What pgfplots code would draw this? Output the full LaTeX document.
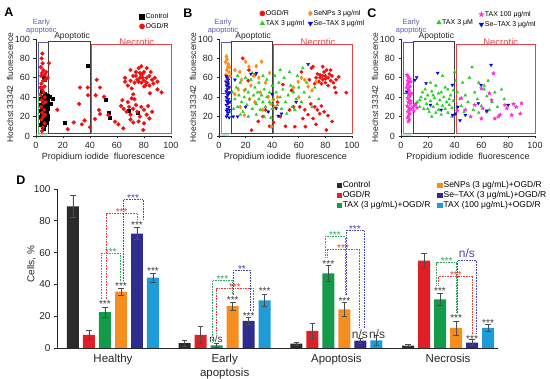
\documentclass[border=0pt]{standalone}
\usepackage{fontspec}
\setmainfont{Liberation Sans}
\usepackage{pgfplots}
\pgfplotsset{compat=1.18}
\usetikzlibrary{plotmarks}

\definecolor{cRed}{HTML}{F01010}
\definecolor{cOrange}{HTML}{FF8C1A}
\definecolor{cGreen}{HTML}{22D022}
\definecolor{cBlue}{HTML}{0A0ADC}
\definecolor{cMag}{HTML}{FF2EDC}
\definecolor{bxEarly}{HTML}{5B5BB0}
\definecolor{bxApo}{HTML}{404040}
\definecolor{bxNec}{HTML}{E5434A}
\definecolor{bxLiv}{HTML}{4DBB6B}
\definecolor{dC}{HTML}{2B2B2B}
\definecolor{dO}{HTML}{E21E26}
\definecolor{dT}{HTML}{139A4A}
\definecolor{dS}{HTML}{F58E1F}
\definecolor{dX}{HTML}{2E2C8E}
\definecolor{dH}{HTML}{1E9CD8}
\definecolor{sgG}{HTML}{2DA85A}
\definecolor{sgR}{HTML}{EE3A3A}
\definecolor{sgB}{HTML}{4646B0}
\definecolor{sgK}{HTML}{3A3A3A}

\pgfdeclareplotmark{fstar}{%
  \pgfpathmoveto{\pgfpointpolar{90}{\pgfplotmarksize}}%
  \pgfpathlineto{\pgfpointpolar{126}{0.42\pgfplotmarksize}}%
  \pgfpathlineto{\pgfpointpolar{162}{\pgfplotmarksize}}%
  \pgfpathlineto{\pgfpointpolar{198}{0.42\pgfplotmarksize}}%
  \pgfpathlineto{\pgfpointpolar{234}{\pgfplotmarksize}}%
  \pgfpathlineto{\pgfpointpolar{270}{0.42\pgfplotmarksize}}%
  \pgfpathlineto{\pgfpointpolar{306}{\pgfplotmarksize}}%
  \pgfpathlineto{\pgfpointpolar{342}{0.42\pgfplotmarksize}}%
  \pgfpathlineto{\pgfpointpolar{18}{\pgfplotmarksize}}%
  \pgfpathlineto{\pgfpointpolar{54}{0.42\pgfplotmarksize}}%
  \pgfpathclose\pgfusepathqfillstroke}

\pgfplotsset{
  scat/.style={
    scale only axis, height=97pt,
    xmin=0, xmax=100, ymin=0, ymax=100,
    axis lines=left, axis line style={-, line width=0.6pt, black!85},
    xtick={0,20,...,100}, ytick={0,20,...,100},
    tick align=outside, major tick length=2.5pt,
    tick style={line width=0.6pt, black!85},
    ticklabel style={font=\fontsize{9}{9}\selectfont, text=black!85},
    /pgf/number format/assume math mode=true,
    clip=false,
    legend style={draw=none, fill=none, font=\fontsize{7}{8}\selectfont,
      inner sep=0pt, row sep=1.5pt, nodes={inner sep=1pt}},
    legend cell align=left,
    legend image code/.code={\draw[##1, only marks, mark size=2.6pt] plot coordinates {(0pt,0pt)};},
  },
  scatlab/.style={
    xlabel={Propidium iodide\ \ fluorescence},
    ylabel={Hoechst 33342\ \ fluorescence},
    xlabel style={at={([yshift=-21pt]axis description cs:0.5,0)}, anchor=center, font=\fontsize{9}{9}\selectfont, text=black!85},
    ylabel style={at={([xshift=-26pt]axis description cs:0,0.5)}, anchor=center, font=\fontsize{8.5}{8.5}\selectfont, text=black!85},
  }
}

\newcommand{\gates}[6]{%
  \draw[bxLiv, line width=0.6pt] (axis cs:2,3) rectangle (axis cs:9,44);
  \draw[bxEarly, line width=0.7pt] (axis cs:2,44) rectangle (axis cs:9,97);
  \draw[bxApo, line width=0.7pt] (axis cs:9,3) rectangle (axis cs:40,98);
  \draw[bxNec, line width=0.7pt] (axis cs:41,3) rectangle (axis cs:100,94);
  \node[bxEarly, align=center, inner sep=0pt, font=\fontsize{7.5}{7.8}\selectfont] at (axis cs:#1,113) {Early\\apoptotic};
  \node[black!85, inner sep=0pt, font=\fontsize{8.5}{8.5}\selectfont] at (axis cs:#2,#3) {Apoptotic};
  \node[bxNec, inner sep=0pt, font=\fontsize{9.5}{9.5}\selectfont] at (axis cs:#4,#5) {Necrotic};
  \node[bxLiv, inner sep=0pt, font=\fontsize{4}{4}\selectfont] at (axis cs:#6,0.5) {Living};
}

\newcommand{\brk}[6]{\draw[#6, densely dotted, line width=0.6pt] (axis cs:#1,#2) -- (axis cs:#1,#3) -- (axis cs:#4,#3) -- (axis cs:#4,#5);}
\newcommand{\stars}[4]{\node[anchor=base, yshift=-5pt, inner sep=0pt, text=#3, font=\fontsize{10}{10}\selectfont] at (axis cs:#1,#2) {#4};}
\newcommand{\ns}[4]{\node[inner sep=0pt, text=#3, font=\fontsize{#4}{#4}\selectfont] at (axis cs:#1,#2) {n/s};}

\begin{document}
\begin{tikzpicture}
\useasboundingbox (0,0) rectangle (550pt,379pt);
\node[font=\fontsize{12.5}{12.5}\selectfont\bfseries] at (9pt,367pt) {A};
\node[font=\fontsize{12.5}{12.5}\selectfont\bfseries] at (188pt,366pt) {B};
\node[font=\fontsize{12.5}{12.5}\selectfont\bfseries] at (372pt,366pt) {C};
\node[font=\fontsize{12.5}{12.5}\selectfont\bfseries] at (21pt,199pt) {D};

% ---------------- Panel A ----------------
\begin{axis}[scat, scatlab, at={(36pt,243pt)}, anchor=south west, width=135pt,
  legend style={at={(axis cs:76.5,128)}, anchor=north west}]
\gates{4}{26.7}{102.4}{74.6}{96.6}{4.2}
\addplot[only marks, mark=square*, mark size=1.5pt, black] coordinates {
(3.5,12) (4,15) (5,18) (6,20) (7,22) (8,25) (4.5,28) (5.5,30) (6.5,33) (7.5,35) (3.8,38) (5.2,40) (6.8,42) (8.2,38) (4.2,22) (5.8,25) (7.2,27) (8.6,30) (3.2,32) (4.8,35) (6.2,16) (7.8,14) (5.1,10) (6.6,12) (8.3,18) (4.4,19) (5.6,23) (6.9,29) (8.8,21) (3.6,26) (5.3,36) (7.1,38) (4.1,41) (6.4,44) (8.5,42) (5.9,13) (7.4,17) (4.6,31) (6.1,34) (8.1,33) (5.0,26) (7.6,24) (3.9,17) (6.7,37) (9.0,28) (4.3,46) (7.9,20) (3.3,20) (6.0,8) (8.9,36) (5.4,61) (6.2,57.7) (10.4,40.5) (12.3,38) (10.8,33) (21,14) (38,72) (51.6,37) (54,24.4) (54.8,19) (68.4,25.8) (75.3,24.4)};
\addlegendentry{Control}
\addplot[only marks, mark=*, mark size=1.9pt, cRed] coordinates {
(4.7,85) (4.2,80) (4.9,75) (9.6,75) (3.5,71) (5.4,68) (4.5,65) (6.5,63) (3.8,62) (8.6,60) (5.2,57) (4.0,54) (6.2,51) (4.5,48) (5.8,45) (3.5,42) (6.5,40) (4.2,37) (5.5,34) (3.9,30) (6.1,27) (4.6,24) (5.3,20) (4.0,17) (6.4,13) (5.0,9) (4.4,5) (7.0,58) (7.5,66) (3.3,50) (7.2,35) (6.8,22)
(15.8,27) (23.5,7) (28,14) (32.6,50) (34,12) (32,33) (38.3,50) (38.5,42) (40,9) (36,16)
(45,58) (47.4,50) (44.2,42) (50.4,40.5) (46.7,26.8) (43.7,17.5) (47.4,22.7) (53.6,21.6) (58.5,14.8) (64.7,7.9) (64,37) (66,56) (70.9,49) (72,43) (70.9,38.8) (80,51) (84.4,44) (90,48) (79.5,6.2) (93,45)
(70,68) (72,62) (74,66) (76,70) (78,63) (80,66) (82,60) (84,62) (86,58) (76,56) (78,55) (80,57) (82,55) (79,60) (77,60) (75,58) (73,55) (81,52) (84,52) (87,54) (85,66) (88,60) (74,62) (78,72) (82,70) (70,57) (68,52) (66,60) (90,56) (79,64) (77,65)
(63,31) (65,28) (67,25) (69,30) (70,22) (72,28) (74,32) (75,25) (77,20) (78,30) (80,27) (82,22) (83,31) (70,17) (72,14) (76,15) (80,13) (84,18) (68,35) (73,38) (61,12) (86,25)};
\addlegendentry{OGD/R}
\end{axis}

% ---------------- Panel B ----------------
\begin{axis}[scat, scatlab, at={(219pt,243pt)}, anchor=south west, width=133pt,
  legend columns=2,
  legend style={at={(axis cs:30.5,131)}, anchor=north west, /tikz/every even column/.append style={column sep=3pt}}]
\gates{3}{25.7}{103}{74.5}{97}{3.5}
\addplot[only marks, mark=*, mark size=1.7pt, cRed] coordinates {
(17.8,80) (22.5,68) (22,57) (27,63) (35,27) (29.5,15) (24.5,6) (38,10) (33,20) (46,20) (53,27) (48,53) (54.5,47) (62,66) (69.5,70) (44,35) (41,14) (50,10) (56,30)
(70.7,71.5) (78,71.5) (74,64) (76,60) (78,58) (80,62) (82,60) (84,57) (80,55) (77,54) (75,56) (73,60) (79,66) (81,68) (83,64) (85,62) (86,55) (88,58) (72,54) (82,52) (76,63) (78,62) (80,59) (87,50) (68,58) (84,68) (90,61)
(60.7,30) (64.5,27) (67,22) (70.7,18) (75.7,23) (57,9.6) (65,9.6) (80.7,6.2) (88,44.7) (95.7,44.7) (72,30) (74,27) (77,31) (69,33) (79,25) (82,21) (63,18) (73,12) (85,15)};
\addlegendentry{OGD/R}
\addplot[only marks, mark=diamond*, mark size=2pt, cOrange] coordinates {
(5.5,82) (6,79) (5,76) (7,74) (6.5,71) (5.8,68) (7.5,66) (5.2,63) (6.8,61) (6,58) (7.2,55) (5.5,52) (6.6,49) (5.8,46) (7,43) (6.2,40) (5.4,37) (6.9,34) (8,71) (8.5,62) (7.8,50)
(15.7,66) (20,76.6) (22.5,71.5) (32,76.6) (28,72) (26,62) (19,47) (14.5,48) (37,40.5) (40.7,37) (39.5,9.6) (19,21.6) (12,68) (17,58) (24,52) (30,60) (35,55) (12,43) (23,38) (31,45) (38,65) (27,35) (33,27) (16,30) (39,33)
(59.5,56) (64.5,57.7) (67,51) (73,56) (62,60) (56,50) (44,40) (70,47) (42,30) (60,40)};
\addlegendentry{SeNPs 3 μg/ml}
\addplot[only marks, mark=triangle*, mark size=1.6pt, cGreen] coordinates {
(10,45) (12,38) (13,50) (14,30) (15,42) (16,55) (17,35) (18,25) (19,40) (20,48) (21,32) (22,45) (22,20) (23,38) (24,58) (25,28) (26,42) (27,50) (28,33) (28,22) (29,45) (30,38) (30,55) (31,27) (32,42) (33,35) (34,48) (34,20) (35,30) (36,40) (36,58) (37,25) (38,35) (38,45) (39,19) (40,28) (40,52) (41,38) (42,62) (43,45) (44,32) (45,55) (46,40) (47,28) (48,48) (49,60) (50,35) (52,42) (53,66) (54,52) (55,30) (56,45) (58,38) (59,62) (60,50) (62,35) (64,45) (66,55) (68,40) (70,30) (72,50) (75,38) (20,60) (16,22) (25,65) (33,62) (11,28) (8.5,35) (8,25) (14,62) (46,68) (51,23) (57,27) (63,70)};
\addlegendentry{TAX 3 μg/ml}
\addplot[only marks, mark=triangle*, mark options={rotate=180}, mark size=1.7pt, cBlue] coordinates {
(5.5,62) (6,60) (7,58) (6.5,55) (5.8,52) (7.5,50) (6.2,48) (5.4,46) (7,44) (6.5,42) (5.6,40) (7.2,38) (6,36) (6.8,34) (5.5,32) (7.4,30) (6.2,28) (5.8,26) (7,24) (6.4,22) (5.6,20) (7.6,19) (8,45) (8.2,35) (7.8,27) (5.2,56) (6.9,53)
(12,58) (10.7,20) (14,20) (28.2,65) (43,28.5) (44.5,20.6) (67,74) (47,23) (40,43) (37,25) (20,30) (58,35) (24,64)};
\addlegendentry{Se–TAX 3 μg/ml}
\end{axis}

% ---------------- Panel C ----------------
\begin{axis}[scat, scatlab, at={(401pt,243pt)}, anchor=south west, width=134pt,
  legend style={at={(axis cs:58,130)}, anchor=north west}]
\gates{7.5}{26.4}{103}{74.4}{97}{4}
\addplot[only marks, mark=triangle*, mark size=1.6pt, cGreen, forget plot] coordinates {
(12,35) (14,30) (15,40) (16,45) (17,28) (18,38) (19,33) (20,42) (21,25) (22,36) (23,46) (23,20) (24,30) (25,39) (26,52) (27,33) (28,27) (28,44) (29,37) (30,22) (31,31) (32,40) (33,28) (34,35) (35,48) (35,24) (36,32) (37,42) (38,29) (38,20) (39,36) (40,66) (41,57) (42,45) (44,38) (45,31) (46,55) (48,42) (50,35) (51,60) (53,71) (54,27) (55,45) (57,38) (58,55) (60,31) (62,48) (64,41) (65,57) (66,27) (68,35) (70,45) (72,30) (75,48) (77,38) (18,48) (22,55) (30,45) (26,24) (33,50) (36,38) (24,42) (20,28) (42,30) (31,62) (58,24) (62,52) (14,37) (47,25) (39,47)};
\addplot[only marks, mark=fstar, mark size=1.9pt, cMag] coordinates {
(4.5,63) (5.5,61) (6.5,59) (5,57) (6,55) (4.8,53) (6.8,51) (5.3,49) (6.2,47) (4.6,45) (5.8,43) (6.6,41) (5,39) (6.1,37) (5.4,35) (6.9,33) (4.7,31) (5.9,29) (6.4,27) (5.1,25) (6.7,23) (5.6,21) (4.9,19) (6.2,17) (5.5,15) (7.2,36) (7.5,44) (7.1,28) (4.3,50) (7.4,56)
(9,30) (10.5,32) (12,29) (9.5,26) (11,33)
(45,39) (48,27) (60,18) (61,28.5) (70,18) (72.6,20) (79,28.5) (86,30) (89,23) (67.7,37) (60,49) (69,64.6) (77.6,32) (90,33.7) (82.6,21.6) (55,32) (64,25) (74,22) (42,26) (52,20) (84,33) (66,44)};
\addlegendentry{TAX 100 μg/ml}
\addplot[only marks, mark=triangle*, mark options={rotate=180}, mark size=1.7pt, cBlue] coordinates {
(4.2,45.7) (10.4,57.7) (11.7,60.5) (18.7,54.3) (27.4,65) (38.3,52.6) (38.6,21.6) (40.8,23) (42.3,30) (48,21.6) (57.7,33.7) (59.7,52.6) (67.2,73.2) (80,32) (22,32) (30,27) (44,16) (64,26)};
\addlegendentry{Se–TAX 3 μg/ml}
\end{axis}
\begin{axis}[scat, hide axis, at={(401pt,243pt)}, anchor=south west, width=134pt,
  legend style={at={(axis cs:26.5,116.8)}, anchor=west}]
\addlegendimage{only marks, mark=triangle*, cGreen}
\addlegendentry{TAX 3 μM}
\end{axis}

% ---------------- Panel D ----------------
\begin{axis}[scale only axis, at={(57pt,31pt)}, anchor=south west, width=441pt, height=159pt,
  xmin=-0.501, xmax=3.447, ymin=0, ymax=100,
  axis lines=left, axis line style={-, line width=0.7pt, black!85},
  ytick={0,20,...,100}, xtick={0,1,2,3},
  xticklabels={Healthy,{Early\\apoptosis},Apoptosis,Necrosis},
  xticklabel style={align=center, font=\fontsize{11.5}{14}\selectfont, text=black!85},
  yticklabel style={font=\fontsize{10}{10}\selectfont, text=black!85},
  /pgf/number format/assume math mode=true,
  major x tick style={draw=none},
  tick align=outside, major tick length=3pt, major y tick style={line width=0.6pt, black!85},
  ylabel={Cells, \%},
  ylabel style={at={([xshift=-25.5pt]axis description cs:0,0.528)}, anchor=center, font=\fontsize{10}{10}\selectfont, text=black!85},
  clip=false,
  legend columns=2,
  legend cell align=left,
  legend style={at={(axis cs:2.0,105)}, anchor=north west, draw=none, fill=none,
    font=\fontsize{8.5}{9}\selectfont, inner sep=0pt, row sep=1.2pt,
    nodes={inner xsep=1pt, inner ysep=0.5pt},
    /tikz/every even column/.append style={column sep=6pt}},
  legend image code/.code={\fill[#1] (0pt,-2.6pt) rectangle (5.2pt,2.6pt);},
  error bars/error bar style={line width=0.7pt, black!70},
  error bars/error mark options={line width=0.7pt, black!70, mark size=2.8pt, rotate=90},
]
\addlegendimage{fill=dC, draw=none}\addlegendentry{Control}
\addlegendimage{fill=dS, draw=none}\addlegendentry{SeNPs (3 μg/mL)+OGD/R}
\addlegendimage{fill=dO, draw=none}\addlegendentry{OGD/R}
\addlegendimage{fill=dX, draw=none}\addlegendentry{Se–TAX (3 μg/mL)+OGD/R}
\addlegendimage{fill=dT, draw=none}\addlegendentry{TAX (3 μg/mL)+OGD/R}
\addlegendimage{fill=dH, draw=none}\addlegendentry{TAX (100 μg/mL)+OGD/R}

\addplot[forget plot, ybar, bar shift=0pt, bar width=0.107, fill=dC, draw=none,
  error bars/.cd, y dir=both, y explicit] coordinates {
  (-0.358,89) +- (0,6.7) (0.642,3.1) +- (0,2) (1.642,2.7) +- (0,1) (2.642,1.5) +- (0,0.5)};
\addplot[forget plot, ybar, bar shift=0pt, bar width=0.107, fill=dO, draw=none,
  error bars/.cd, y dir=both, y explicit] coordinates {
  (-0.215,8.2) +- (0,3) (0.785,8.2) +- (0,5.4) (1.785,10.7) +- (0,4.5) (2.785,55) +- (0,4.5)};
\addplot[forget plot, ybar, bar shift=0pt, bar width=0.107, fill=dT, draw=none,
  error bars/.cd, y dir=both, y explicit] coordinates {
  (-0.072,22.6) +- (0,3.2) (0.928,1.7) +- (0,1) (1.928,47) +- (0,4.8) (2.928,30.6) +- (0,3.8)};
\addplot[forget plot, ybar, bar shift=0pt, bar width=0.107, fill=dS, draw=none,
  error bars/.cd, y dir=both, y explicit] coordinates {
  (0.072,35.4) +- (0,2) (1.072,26.4) +- (0,2.5) (2.072,24.3) +- (0,4.2) (3.072,12.6) +- (0,4.4)};
\addplot[forget plot, ybar, bar shift=0pt, bar width=0.107, fill=dX, draw=none,
  error bars/.cd, y dir=both, y explicit] coordinates {
  (0.215,71.9) +- (0,3.8) (1.215,17) +- (0,2) (2.215,4.6) +- (0,1.5) (3.215,3.4) +- (0,1.8)};
\addplot[forget plot, ybar, bar shift=0pt, bar width=0.107, fill=dH, draw=none,
  error bars/.cd, y dir=both, y explicit] coordinates {
  (0.358,44.2) +- (0,3) (1.358,30) +- (0,4) (2.358,4.8) +- (0,3) (3.358,12.6) +- (0,2.1)};

% Healthy
\stars{-0.072}{28.3}{sgK}{***}
\stars{0.072}{39.8}{sgK}{***}
\stars{0.215}{78}{sgK}{***}
\stars{0.358}{49.5}{sgK}{***}
\brk{-0.101}{31}{59.7}{0.063}{42.5}{sgG}\stars{-0.02}{61.4}{sgG}{***}
\brk{-0.063}{31}{84.5}{0.218}{80.5}{sgR}\stars{0.078}{86.3}{sgR}{***}
\brk{0.092}{42.5}{93.3}{0.271}{80.5}{sgB}\stars{0.18}{95.1}{sgB}{***}
% Early apoptosis
\ns{0.922}{5.5}{sgK}{10}
\stars{1.072}{31}{sgK}{***}
\stars{1.215}{21}{sgK}{***}
\stars{1.358}{36.7}{sgK}{***}
\brk{0.893}{3.5}{42.5}{1.068}{33.5}{sgG}\stars{0.98}{44.3}{sgG}{***}
\brk{0.922}{9}{37.3}{1.256}{23.5}{sgR}\stars{1.092}{39.1}{sgR}{***}
\brk{1.077}{33.5}{48.8}{1.233}{23.5}{sgB}\stars{1.155}{50.6}{sgB}{**}
% Apoptosis
\stars{1.928}{53.7}{sgK}{***}
\stars{2.072}{30.8}{sgK}{***}
\ns{2.211}{8.6}{sgK}{12}
\ns{2.364}{8.6}{sgK}{12}
\brk{1.898}{57}{70}{2.077}{33.5}{sgG}\stars{1.987}{71.8}{sgG}{***}
\brk{1.918}{57}{62.3}{2.205}{12.5}{sgR}\stars{2.06}{64}{sgR}{***}
\brk{2.086}{33.5}{74}{2.247}{12.5}{sgB}\stars{2.166}{75.8}{sgB}{***}
% Necrosis
\stars{2.928}{37}{sgK}{***}
\stars{3.072}{19.7}{sgK}{***}
\stars{3.215}{6.7}{sgK}{***}
\stars{3.358}{16.6}{sgK}{***}
\brk{2.898}{39.5}{53.7}{3.071}{22}{sgG}\stars{2.987}{55.4}{sgG}{***}
\brk{2.912}{39.5}{45.3}{3.22}{9}{sgR}\stars{3.07}{47}{sgR}{***}
\brk{3.082}{22}{55}{3.256}{9}{sgB}\ns{3.168}{59.3}{sgB}{12}
\end{axis}
\end{tikzpicture}
\end{document}
